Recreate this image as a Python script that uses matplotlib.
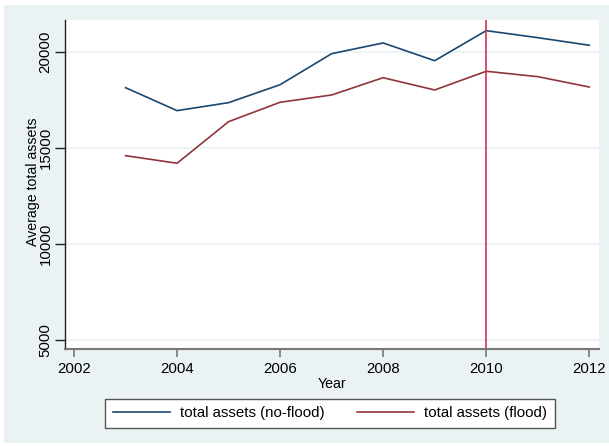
import matplotlib
matplotlib.use("Agg")
import matplotlib.pyplot as plt
from matplotlib.patches import Rectangle

years = [2003, 2004, 2005, 2006, 2007, 2008, 2009, 2010, 2011, 2012]
assets_noflood = [18125, 16930, 17345, 18280, 19895, 20455, 19530, 21095, 20730, 20335]
assets_flood = [14585, 14190, 16355, 17365, 17745, 18645, 18005, 18980, 18700, 18160]
flood_year = 2010

x_ticks = [2002, 2004, 2006, 2008, 2010, 2012]
y_ticks = [5000, 10000, 15000, 20000]

plt.rcParams['font.family'] = ['Liberation Sans', 'DejaVu Sans']
plt.rcParams['font.size'] = 10.8

BG = '#eaf2f3'
BLUE = '#1a476f'
RED = '#90353b'
VLINE = '#dc2d55'

fig = plt.figure(figsize=(6.09, 4.46), dpi=100, facecolor='white')
fig.patches.append(Rectangle((4 / 609, 3 / 446), 1, 438 / 446, transform=fig.transFigure,
                             facecolor=BG, edgecolor='none', zorder=-10))

ax = fig.add_axes([65 / 609, 96.7 / 446, 534 / 609, 329.3 / 446])
ax.set_facecolor('white')

ax.plot(years, assets_noflood, color=BLUE, linewidth=1.2, label='total assets (no-flood)')
ax.plot(years, assets_flood, color=RED, linewidth=1.2, label='total assets (flood)')
ax.axvline(flood_year, color=VLINE, linewidth=1.2)

ax.set_xlim(2001.825, 2012.19)
ax.set_ylim(4500, 21650)
ax.set_xticks(x_ticks)
ax.set_yticks(y_ticks)
ax.set_yticklabels([str(v) for v in y_ticks], rotation=90, va='center')
ax.grid(axis='y', color=BG, linewidth=1.2)
ax.set_axisbelow(True)

for side in ['top', 'right']:
    ax.spines[side].set_visible(False)
ax.spines['left'].set_color('#222222')
ax.spines['bottom'].set_color('#777777')
ax.spines['left'].set_linewidth(1.0)
ax.spines['bottom'].set_linewidth(1.5)
ax.tick_params(axis='y', length=7, width=1, color='#222222', pad=2)
ax.tick_params(axis='x', length=6, width=1.2, color='#777777', pad=3)

ax.set_xlabel('Year', labelpad=1, fontsize=10.2)
ax.set_ylabel('Average total assets', fontsize=10.2)
ax.yaxis.set_label_coords(-0.047, 0.51)

leg = fig.legend(loc='center', bbox_to_anchor=(330 / 609, 32.5 / 446), ncol=2,
                 frameon=True, fancybox=False, edgecolor='#555555', framealpha=1,
                 handlelength=3.8, columnspacing=2.1, handletextpad=0.7,
                 borderpad=0.5, borderaxespad=0, fontsize=10.8)
leg.get_frame().set_linewidth(1.0)

fig.savefig('out.png', dpi=100, facecolor='white')
